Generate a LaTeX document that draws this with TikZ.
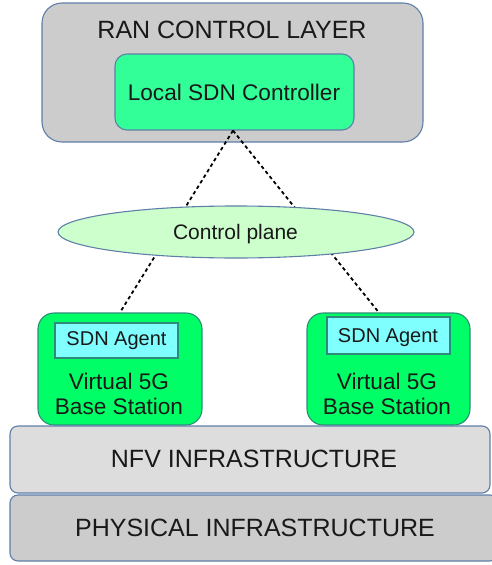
\documentclass[tikz,border=0pt]{standalone}
\usepackage{fontspec}
\setmainfont{Liberation Sans}
\usetikzlibrary{shapes.geometric}
\definecolor{edgeblue}{HTML}{5F7FA8}
\definecolor{edgegreen}{HTML}{2E8B7A}
\definecolor{layergray}{HTML}{CCCCCC}
\definecolor{nfvgray}{HTML}{DDDDDD}
\definecolor{ctrlgreen}{HTML}{33FF99}
\definecolor{bsgreen}{HTML}{00FF66}
\definecolor{agentcyan}{HTML}{80FFFF}
\definecolor{planegreen}{HTML}{CCFFCC}
\pgfdeclarelayer{bg}
\pgfdeclarelayer{mid}
\pgfsetlayers{bg,mid,main}
\tikzset{
  px/.style={x=1pt,y=-1pt},
  box/.style={draw=edgeblue, line width=1.1pt, inner sep=0pt, rectangle},
  layerbox/.style={box, fill=layergray, rounded corners=20pt},
  ctrlbox/.style={box, fill=ctrlgreen, rounded corners=12pt},
  bsbox/.style={draw=edgegreen, line width=1.1pt, inner sep=0pt, fill=bsgreen, rounded corners=16pt},
  agentbox/.style={draw=edgegreen, line width=1.1pt, inner sep=0pt, fill=agentcyan},
  infrabox/.style={box, rounded corners=8pt},
  planebox/.style={draw=edgeblue, line width=1.1pt, inner sep=0pt, ellipse, fill=planegreen},
  txt/.style={anchor=base, inner sep=0pt, text=black!90},
  link/.style={line width=1.8pt, dash pattern=on 3.5pt off 3pt, black}
}
\begin{document}
\begin{tikzpicture}[px]
\useasboundingbox (0,0) rectangle (491,565);
\begin{pgfonlayer}{bg}
\node[layerbox, minimum width=381pt, minimum height=139pt] (ran) at (232.5,72.5) {};
\node[ctrlbox, minimum width=239pt, minimum height=76pt] (ctrl) at (234.5,92) {};
\end{pgfonlayer}
\node[txt, font=\fontsize{25}{30}\selectfont] (rantxt) at (232,38) {RAN CONTROL LAYER};
\node[txt, font=\fontsize{22.6}{27}\selectfont] (ctrltxt) at (234,100) {Local SDN Controller};

\node[planebox, minimum width=356pt, minimum height=52pt] (plane) at (236,232) {};
\node[txt, font=\fontsize{21}{25}\selectfont] (planetxt) at (235.5,239) {Control plane};

\node[bsbox, minimum width=164pt, minimum height=112pt] (bs1) at (120,369) {};
\node[agentbox, minimum width=123pt, minimum height=35pt] (ag1) at (116.5,340.5) {};
\node[txt, font=\fontsize{20}{24}\selectfont] (ag1txt) at (116.5,345.7) {SDN Agent};
\node[txt, font=\fontsize{22.6}{27}\selectfont] (bs1a) at (119,389) {Virtual 5G};
\node[txt, font=\fontsize{22.6}{27}\selectfont] (bs1b) at (119,414) {Base Station};

\node[bsbox, minimum width=163pt, minimum height=112pt] (bs2) at (388.5,369) {};
\node[agentbox, minimum width=123pt, minimum height=37pt] (ag2) at (388.5,335.5) {};
\node[txt, font=\fontsize{20}{24}\selectfont] (ag2txt) at (388,342.7) {SDN Agent};
\node[txt, font=\fontsize{22.6}{27}\selectfont] (bs2a) at (387,389) {Virtual 5G};
\node[txt, font=\fontsize{22.6}{27}\selectfont] (bs2b) at (387,414) {Base Station};

\node[infrabox, fill=nfvgray, minimum width=480pt, minimum height=67pt] (nfv) at (250,459.5) {};
\node[txt, font=\fontsize{25}{30}\selectfont] (nfvtxt) at (254,467.7) {NFV INFRASTRUCTURE};
\node[infrabox, fill=layergray, minimum width=488pt, minimum height=66pt] (phy) at (254,528) {};
\node[txt, font=\fontsize{25}{30}\selectfont] (phytxt) at (255,536) {PHYSICAL INFRASTRUCTURE};

\coordinate (c0) at ([xshift=-1.5pt]ctrl.south);
\coordinate (t1) at (bs1.north);
\coordinate (t2) at ([xshift=-6.5pt]ag2.north);
\begin{pgfonlayer}{mid}
\draw[link] (c0) -- (t1);
\draw[link] (c0) -- (t2);
\end{pgfonlayer}
\end{tikzpicture}
\end{document}
